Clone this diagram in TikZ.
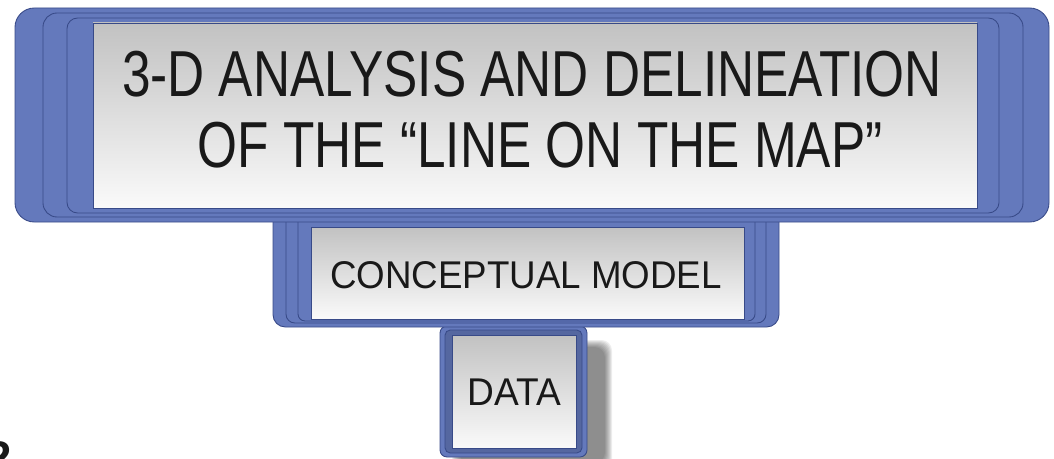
\documentclass[tikz,border=0pt]{standalone}
\usepackage{fontspec}
\setmainfont{Liberation Sans}
\usepackage{graphicx}
\usepackage{tikz}
\usetikzlibrary{calc}
\definecolor{tierblue}{RGB}{100,121,188}
\definecolor{tieredge}{RGB}{56,74,136}
\newcommand{\squeeze}[2]{\scalebox{#1}[1]{#2}}

\begin{document}
\begin{tikzpicture}[
        x=0.02cm, y=-0.02cm,
        layer/.style={fill=tierblue, draw=tieredge, line width=0.5pt},
        panel/.style={top color=black!24, bottom color=black!2, draw=tieredge, line width=0.5pt},
        label/.style={text=black!90, inner sep=0pt, anchor=base},
    ]
    \useasboundingbox (0,0) rectangle (1054,459);

    % Tier 3: data
    \foreach \s in {0,...,7}
    \fill[black, opacity=0.07, rounded corners=6pt] ($(452,340)+(\s,\s)$) rectangle ($(612,470)-(\s,\s)$);
    \draw[layer, rounded corners=4pt] (440,326) rectangle (587,457);
    \draw[layer, rounded corners=3pt, fill=tierblue!85!black] (445,330) rectangle (582,453);
    \draw[panel] (452,335) rectangle (576,448);
    \node[label, font=\fontsize{22}{25}\selectfont] (data) at (514,405) {\squeeze{0.96}{DATA}};

    % Tier 2: conceptual model
    \draw[layer, rounded corners=7pt] (273,200) rectangle (779,327);
    \draw[layer, rounded corners=5pt] (286,200) rectangle (766,323);
    \draw[layer, rounded corners=4pt] (298,200) rectangle (755,321);
    \draw[panel] (311,227) rectangle (744,319);
    \node[label, font=\fontsize{22}{25}\selectfont] (model) at (526,288) {\squeeze{0.95}{CONCEPTUAL MODEL}};

    % Tier 1: analysis
    \draw[layer, rounded corners=11pt] (15,8) rectangle (1049,222);
    \draw[layer, rounded corners=8pt] (43,13) rectangle (1023,217);
    \draw[layer, rounded corners=6pt] (67,18) rectangle (999,213);
    \draw[panel] (93,23) rectangle (977,208);
    \node[label, font=\fontsize{37}{40}\selectfont] (line1) at (532,97) {\squeeze{0.79}{3-D ANALYSIS AND DELINEATION}};
    \node[label, font=\fontsize{37}{40}\selectfont] (line2) at (540,168) {\squeeze{0.79}{OF THE “LINE ON THE MAP”}};

    % cut-off figure at lower left
    \node[label, anchor=north west, font=\fontsize{26}{30}\selectfont\bfseries] (cut) at (-14,441) {2};
\end{tikzpicture}
\end{document}
